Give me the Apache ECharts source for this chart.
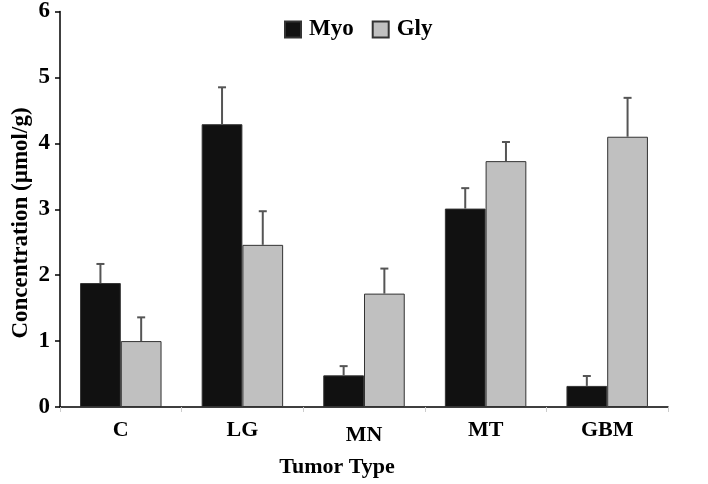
<!DOCTYPE html>
<html>
<head>
<meta charset="utf-8">
<script src="https://cdn.jsdelivr.net/npm/echarts@6/dist/echarts.min.js"></script>
<style>html,body{margin:0;padding:0;background:#fff;}#c{width:708px;height:484px;}</style>
</head>
<body>
<div id="c"></div>
<script>
var categories = ['C', 'LG', 'MN', 'MT', 'GBM'];
var myo = [1.88, 4.29, 0.48, 3.01, 0.32];
var myoErr = [0.29, 0.56, 0.14, 0.31, 0.15];
var gly = [1.00, 2.46, 1.72, 3.73, 4.10];
var glyErr = [0.36, 0.51, 0.38, 0.29, 0.59];
var yTicks = [0, 1, 2, 3, 4, 5, 6];

var FONT = "'Liberation Serif', 'Times New Roman', serif";
var GAP = 0.33;

function errSeries(name, vals, errs, sign) {
  var data = vals.map(function (v, i) { return [i, v, v + errs[i]]; });
  return {
    type: 'custom',
    name: name + ' err',
    data: data,
    z: 10,
    silent: true,
    renderItem: function (params, api) {
      var i = api.value(0);
      var base = api.coord([i, api.value(1)]);
      var top = api.coord([i, api.value(2)]);
      var cw = api.size([1, 0])[0];
      var bw = cw * (1 - GAP) / 2;
      var x = base[0] + sign * bw / 2;
      var cap = 4;
      var st = { stroke: '#555', lineWidth: 2 };
      return {
        type: 'group',
        children: [
          { type: 'line', shape: { x1: x, y1: base[1], x2: x, y2: top[1] }, style: st },
          { type: 'line', shape: { x1: x - cap, y1: top[1], x2: x + cap, y2: top[1] }, style: st }
        ]
      };
    }
  };
}

var chart = echarts.init(document.getElementById('c'), null, { renderer: 'canvas' });
chart.setOption({
  animation: false,
  backgroundColor: '#fff',
  grid: { left: 60, right: 40, top: 10, bottom: 77 },
  legend: {
    data: ['Myo', 'Gly'],
    left: 279, top: 13,
    icon: 'rect', itemWidth: 16, itemHeight: 16, itemGap: 18,
    textStyle: { fontFamily: FONT, fontWeight: 'bold', fontSize: 23, color: '#000', padding: [0, 0, 0, 3] }
  },
  xAxis: {
    type: 'category',
    data: categories,
    axisLine: { lineStyle: { color: '#000', width: 1.5 } },
    axisTick: { show: true, alignWithLabel: false, length: 5, lineStyle: { color: '#ccc' } },
    axisLabel: {
      margin: 12, color: '#000', fontFamily: FONT, fontWeight: 'bold', fontSize: 22,
      formatter: function (v) { return v === 'MN' ? '{mn|MN}' : v; },
      rich: { mn: { fontFamily: FONT, fontWeight: 'bold', fontSize: 22, color: '#000', padding: [5, 0, 0, 0] } }
    }
  },
  yAxis: {
    type: 'value',
    min: yTicks[0], max: yTicks[yTicks.length - 1], interval: 1,
    splitLine: { show: false },
    axisLine: { show: true, lineStyle: { color: '#000', width: 1.5 } },
    axisTick: { show: true, length: 5, lineStyle: { color: '#000', width: 1.5 } },
    axisLabel: { margin: 10, color: '#000', fontFamily: FONT, fontWeight: 'bold', fontSize: 23 }
  },
  graphic: [
    { type: 'text', x: 21, y: 223, rotation: Math.PI / 2,
      style: { text: 'Concentration (µmol/g)', fontFamily: FONT, fontWeight: 'bold', fontSize: 23, fill: '#000', align: 'center', verticalAlign: 'middle' } },
    { type: 'text', x: 337, y: 467,
      style: { text: 'Tumor Type', fontFamily: FONT, fontWeight: 'bold', fontSize: 22, fill: '#000', align: 'center', verticalAlign: 'middle' } }
  ],
  series: [
    { name: 'Myo', type: 'bar', data: myo, barGap: '0%', barCategoryGap: (GAP * 100) + '%',
      itemStyle: { color: '#111', borderColor: '#333', borderWidth: 1 } },
    { name: 'Gly', type: 'bar', data: gly, barGap: '0%', barCategoryGap: (GAP * 100) + '%',
      itemStyle: { color: '#c0c0c0', borderColor: '#333', borderWidth: 1 } },
    errSeries('Myo', myo, myoErr, -1),
    errSeries('Gly', gly, glyErr, 1)
  ]
});
</script>
</body>
</html>
